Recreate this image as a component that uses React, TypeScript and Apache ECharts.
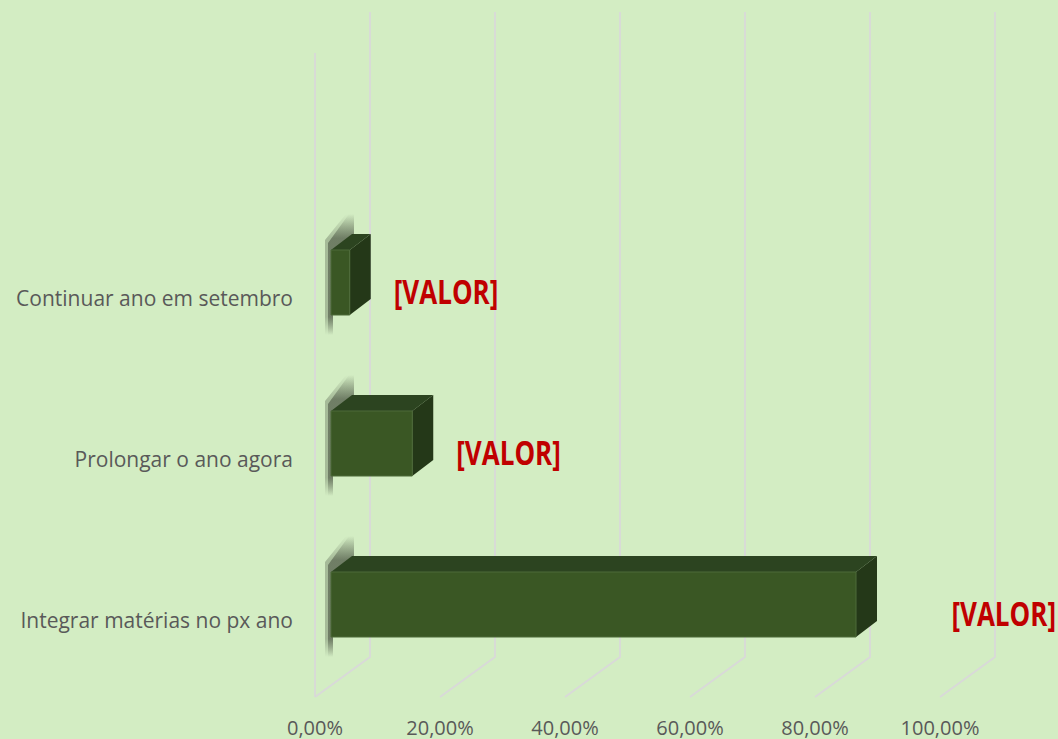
import React, { useEffect, useRef } from "react";
import * as echarts from "echarts";

const categories = [
  "Continuar ano em setembro",
  "Prolongar o ano agora",
  "Integrar matérias no px ano",
];
const values = [0.03, 0.13, 0.84];
const valueLabels = ["[VALOR]", "[VALOR]", "[VALOR]"];
const ticks = [0, 0.2, 0.4, 0.6, 0.8, 1];

export default function App() {
  const ref = useRef<HTMLDivElement>(null);

  useEffect(() => {
    const chart = echarts.init(ref.current as HTMLDivElement, null, { renderer: "svg" });
    const WALL_DX = 55;
    const WALL_DY = 40;
    const BAR_DX = 21;
    const BAR_DY = 16;
    const BAR_H = 65;
    const LABEL_W = 108;
    const grid = "#d9d9d9";

    const gridRender = (params: any, api: any) => {
      const v = api.value(0);
      const p = api.coord([v, 0]);
      const cs = params.coordSys;
      const top = cs.y;
      const bottom = cs.y + cs.height;
      const fx = p[0];
      const fy = bottom - 3;
      const bx = fx + WALL_DX;
      const by = fy - WALL_DY;
      const children: any[] = [
        {
          type: "polyline",
          shape: { points: [[bx, top - 205], [bx, by], [fx, fy]] },
          style: { stroke: grid, lineWidth: 1.8, fill: null },
        },
      ];
      if (v === 0) {
        children.push({
          type: "line",
          shape: { x1: fx, y1: top - 164, x2: fx, y2: fy },
          style: { stroke: grid, lineWidth: 1.8 },
        });
      }
      return { type: "group", children };
    };

    const shadowFill = (sTop: number, sBot: number, a: number) => ({
      type: "linear",
      x: 0,
      y: sTop,
      x2: 0,
      y2: sBot,
      global: true,
      colorStops: [
        { offset: 0, color: "rgba(30,35,25,0)" },
        { offset: 0.2, color: `rgba(30,35,25,${a})` },
        { offset: 0.85, color: `rgba(30,35,25,${a})` },
        { offset: 1, color: "rgba(30,35,25,0)" },
      ],
    });

    const barRender = (params: any, api: any) => {
      const v = api.value(0);
      const ci = api.value(1);
      const p0 = api.coord([0, ci]);
      const p1 = api.coord([v, ci]);
      const pMax = api.coord([1, ci]);
      const cs = params.coordSys;
      const x0 = p0[0] + 16;
      const x1 = p1[0] + 16;
      const cy = p0[1] - 15;
      const yT = cy - BAR_H / 2;
      const yB = cy + BAR_H / 2;
      let lx = x1 + BAR_DX + 23;
      let align = "left";
      if (lx + LABEL_W > pMax[0] + WALL_DX) {
        lx = cs.x + cs.width + 116;
        align = "right";
      }
      const ly = cy + 9;
      const sTop = yT - BAR_DY - 20;
      const sBot = yB + 20;
      const shadowPoly = (w: number, a: number) => ({
        type: "polygon",
        shape: {
          points: [
            [x0 - w, sBot],
            [x0 - w, yT - 4 - w],
            [x0 + BAR_DX - w, sTop],
            [x0 + BAR_DX + 2, sTop],
            [x0 + BAR_DX + 2, yT - BAR_DY],
            [x0 + 2, yT],
            [x0 + 2, sBot],
          ],
        },
        style: { fill: shadowFill(sTop, sBot, a) },
      });
      return {
        type: "group",
        children: [
          shadowPoly(6, 0.25),
          shadowPoly(3, 0.4),
          {
            type: "polygon",
            shape: {
              points: [
                [x0, yT],
                [x0 + BAR_DX, yT - BAR_DY],
                [x1 + BAR_DX, yT - BAR_DY],
                [x1, yT],
              ],
            },
            style: { fill: "#2c4420" },
          },
          {
            type: "polygon",
            shape: {
              points: [
                [x1, yT],
                [x1 + BAR_DX, yT - BAR_DY],
                [x1 + BAR_DX, yB - BAR_DY],
                [x1, yB],
              ],
            },
            style: { fill: "#243818" },
          },
          {
            type: "rect",
            shape: { x: x0, y: yT, width: x1 - x0, height: BAR_H },
            style: { fill: "#3a5724", stroke: "#4c6a38", lineWidth: 1 },
          },
          {
            type: "text",
            x: lx,
            y: ly,
            scaleY: 1.28,
            style: {
              text: valueLabels[params.dataIndex],
              x: 0,
              y: 0,
              align,
              verticalAlign: "middle",
              fill: "#c00000",
              fontFamily: "Open Sans",
              fontWeight: "bold",
              fontSize: 26,
            },
          },
        ],
      };
    };

    chart.setOption({
      animation: false,
      backgroundColor: "#d3edc3",
      grid: { left: 315, top: 217, width: 625, height: 483, containLabel: false },
      xAxis: {
        type: "value",
        min: 0,
        max: 1,
        interval: 0.2,
        axisLine: { show: false },
        axisTick: { show: false },
        splitLine: { show: false },
        axisLabel: {
          margin: 17,
          color: "#595959",
          fontFamily: "Open Sans",
          fontSize: 20,
          lineHeight: 20,
          formatter: (val: number) => (val * 100).toFixed(2).replace(".", ",") + "%",
        },
      },
      yAxis: {
        type: "category",
        inverse: true,
        data: categories,
        axisLine: { show: false },
        axisTick: { show: false },
        splitLine: { show: false },
        axisLabel: {
          margin: 22,
          color: "#595959",
          fontFamily: "Open Sans",
          fontSize: 21,
        },
      },
      series: [
        {
          type: "custom",
          z: 1,
          silent: true,
          renderItem: gridRender,
          data: ticks.map((t) => [t, 0]),
          encode: { x: 0, y: 1 },
        },
        {
          type: "custom",
          z: 5,
          renderItem: barRender,
          data: values.map((v, i) => [v, i]),
          encode: { x: 0, y: 1 },
        },
      ],
    });
    return () => chart.dispose();
  }, []);

  return (
    <div
      ref={ref}
      style={{ position: "absolute", left: 0, top: 0, width: 1058, height: 739 }}
    />
  );
}
